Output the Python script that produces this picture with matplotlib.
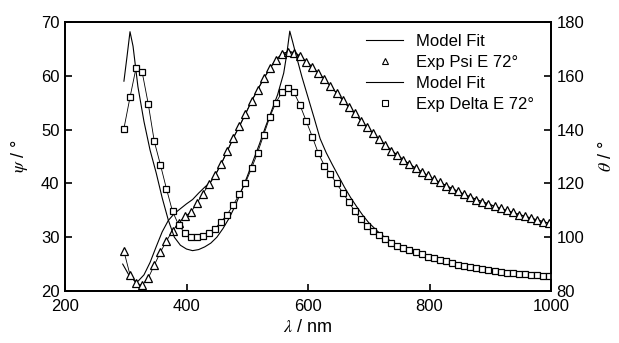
import numpy as np
import matplotlib.pyplot as plt
from matplotlib.lines import Line2D

plt.rcParams['font.family'] = ['Liberation Sans', 'DejaVu Sans']
plt.rcParams['mathtext.fontset'] = 'stix'

# experimental wavelength grid (nm)
wl_exp = [297, 307, 317, 327, 337, 347, 357, 367, 377, 387,
          397, 407, 417, 427, 437, 447, 457, 467, 477, 487,
          497, 507, 517, 527, 537, 547, 557, 567, 577, 587,
          597, 607, 617, 627, 637, 647, 657, 667, 677, 687,
          697, 707, 717, 727, 737, 747, 757, 767, 777, 787,
          797, 807, 817, 827, 837, 847, 857, 867, 877, 887,
          897, 907, 917, 927, 937, 947, 957, 967, 977, 987, 997]

# Exp Psi (left axis, deg)
psi_exp = [27.4, 23.0, 21.4, 21.1, 22.4, 24.8, 27.2, 29.3, 31.2, 32.6,
           33.9, 34.6, 36.3, 38.1, 39.8, 41.5, 43.6, 46.0, 48.4, 50.6,
           52.9, 55.3, 57.4, 59.5, 61.4, 63.0, 64.0, 64.5, 64.3, 63.6,
           62.6, 61.6, 60.5, 59.4, 58.1, 56.8, 55.5, 54.2, 53.0, 51.6,
           50.4, 49.3, 48.2, 47.1, 46.1, 45.2, 44.4, 43.6, 42.9, 42.2,
           41.5, 40.8, 40.2, 39.6, 39.0, 38.5, 38.0, 37.5, 37.0, 36.6,
           36.2, 35.8, 35.4, 35.0, 34.6, 34.2, 33.9, 33.5, 33.2, 32.9, 32.6]

# Exp Delta (right axis, deg)
delta_exp = [140.4, 152.0, 163.0, 161.4, 149.6, 135.6, 127.0, 118.0, 109.6, 104.6,
             101.6, 100.2, 100.0, 100.6, 101.6, 103.2, 105.8, 108.4, 112.0, 116.0,
             120.2, 125.6, 131.4, 138.0, 144.6, 150.0, 153.8, 155.4, 153.8, 149.0,
             143.2, 137.4, 131.2, 126.6, 123.4, 120.0, 116.6, 113.2, 109.6, 106.6,
             104.0, 102.4, 100.8, 99.4, 98.0, 96.8, 96.0, 95.2, 94.4, 93.6,
             92.8, 92.2, 91.6, 91.0, 90.4, 89.8, 89.2, 88.8, 88.4, 88.0,
             87.8, 87.4, 87.2, 86.8, 86.6, 86.4, 86.2, 86.0, 85.8, 85.6, 85.4]

# Model fit, psi
wl_fit_psi = [295, 305, 315, 320, 330, 340, 350, 360, 370, 380, 390, 400,
              410, 420, 430, 440, 450, 460, 470, 480, 490, 500, 510, 520,
              530, 540, 550, 560, 570, 580, 590, 600, 610, 620, 630, 640,
              650, 660, 670, 680, 690, 700, 720, 740, 760, 780, 800, 820,
              840, 860, 880, 900, 920, 940, 960, 980, 1000]
psi_fit = [25.0, 23.0, 21.9, 21.8, 23.0, 25.3, 28.2, 31.0, 33.1, 34.4, 35.3, 36.2,
           37.0, 38.2, 39.3, 40.3, 42.1, 44.3, 46.7, 49.1, 51.3, 53.6, 55.9, 58.0,
           60.0, 61.8, 63.3, 64.2, 64.5, 64.2, 63.4, 62.4, 61.3, 60.2, 59.0, 57.7,
           56.4, 55.1, 53.8, 52.6, 51.3, 50.1, 47.9, 45.9, 44.1, 42.6, 41.2, 40.0,
           38.9, 37.8, 36.9, 36.0, 35.2, 34.5, 33.8, 33.1, 32.5]

# Model fit, delta
wl_fit_delta = [297, 302, 307, 312, 320, 330, 340, 350, 360, 370, 380, 390,
                400, 410, 420, 430, 440, 450, 460, 470, 480, 490, 500, 510,
                520, 530, 540, 550, 560, 565, 570, 575, 580, 590, 600, 610,
                620, 630, 640, 650, 660, 670, 680, 690, 700, 720, 740, 760,
                780, 800, 820, 840, 860, 880, 900, 920, 940, 960, 980, 1000]
delta_fit = [158.0, 167.0, 176.4, 171.0, 156.0, 143.0, 132.4, 124.0, 114.6, 106.4, 100.0, 97.0,
             95.6, 95.0, 95.4, 96.4, 97.8, 100.0, 103.2, 107.0, 111.6, 117.0, 122.6, 128.6,
             134.6, 141.0, 147.0, 153.0, 161.0, 168.0, 176.6, 172.4, 168.0, 159.6, 152.0, 144.4,
             136.6, 131.4, 127.0, 122.8, 118.6, 114.8, 111.4, 108.2, 105.4, 101.0, 98.0, 95.8,
             94.2, 92.8, 91.6, 90.4, 89.2, 88.4, 87.6, 87.0, 86.4, 86.0, 85.6, 85.2]

fig = plt.figure(figsize=(6.19, 3.43), dpi=100)
ax = fig.add_axes([65/619, 1-291/343, 486/619, 269/343])
ax2 = ax.twinx()

ax.plot(wl_fit_psi, psi_fit, color='black', lw=0.8)
ax.plot(wl_exp, psi_exp, color='black', lw=0.6, marker='^', ms=5.5,
        mfc='white', mec='black', mew=0.9)
ax2.plot(wl_fit_delta, delta_fit, color='black', lw=0.8)
ax2.plot(wl_exp, delta_exp, color='black', lw=0.6, marker='s', ms=5,
         mfc='white', mec='black', mew=0.9)

ax.set_xlim(200, 1000)
ax.set_ylim(20, 70)
ax2.set_ylim(80, 180)
ax.set_xticks([200, 400, 600, 800, 1000])
ax.set_yticks([20, 30, 40, 50, 60, 70])
ax2.set_yticks([80, 100, 120, 140, 160, 180])

for a in (ax, ax2):
    a.tick_params(direction='in', length=5, width=1.2, labelsize=12, pad=4)
    for s in a.spines.values():
        s.set_linewidth(1.3)
ax.tick_params(axis='x', pad=6)
ax.tick_params(axis='y', right=False)
ax2.tick_params(axis='y', left=False)

ax.set_xlabel(r'$\lambda$ / nm', fontsize=13, labelpad=3)
ax.set_ylabel(r'$\psi$ / °', fontsize=13, labelpad=8)
ax2.set_ylabel(r'$\theta$ / °', fontsize=13, labelpad=10)

handles = [
    Line2D([], [], color='black', lw=0.8),
    Line2D([], [], ls='none', marker='^', ms=4.5, mfc='white', mec='black', mew=0.8),
    Line2D([], [], color='black', lw=0.8),
    Line2D([], [], ls='none', marker='s', ms=4, mfc='white', mec='black', mew=0.8),
]
labels = ['Model Fit', 'Exp Psi E 72°', 'Model Fit', 'Exp Delta E 72°']
ax2.legend(handles, labels, loc='upper right', bbox_to_anchor=(0.99, 1.0),
           frameon=False, fontsize=12, handlelength=2.2, handletextpad=0.8,
           labelspacing=0.36, borderaxespad=0.3)

fig.savefig('out.png', dpi=100)
